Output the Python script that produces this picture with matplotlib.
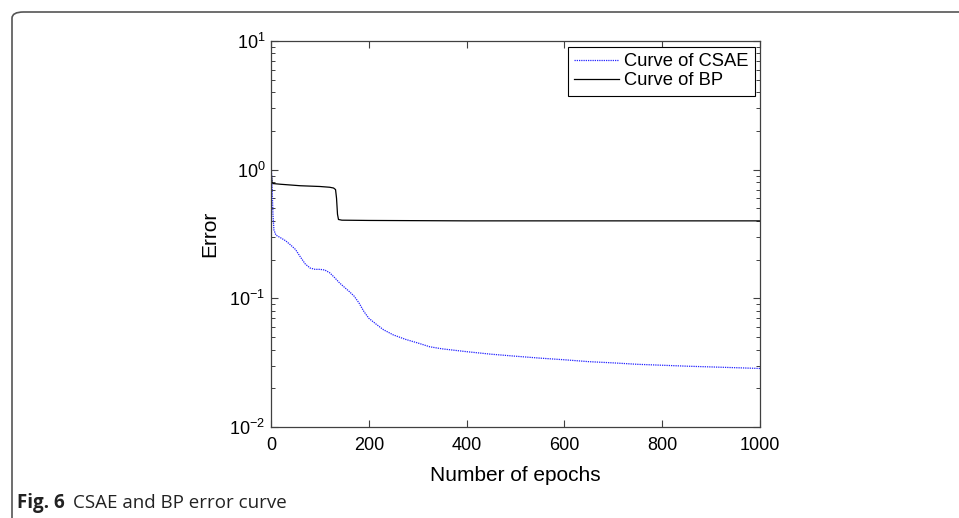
import matplotlib
matplotlib.use("Agg")
import matplotlib.pyplot as plt
from matplotlib.patches import FancyBboxPatch
from matplotlib.ticker import LogLocator, NullFormatter

# ---- data ----
csae_epochs = [0, 2, 4, 6, 10, 20, 30, 40, 50, 60, 70, 80, 90, 100, 110, 120,
               130, 140, 150, 160, 170, 180, 190, 200, 215, 230, 250, 275, 300,
               325, 350, 400, 450, 500, 550, 600, 650, 700, 750, 800, 850, 900,
               950, 1000]
csae_error = [1.15, 0.80, 0.45, 0.34, 0.31, 0.295, 0.28, 0.26, 0.24, 0.21,
              0.185, 0.172, 0.168, 0.168, 0.166, 0.158, 0.145, 0.132, 0.122,
              0.113, 0.104, 0.092, 0.079, 0.070, 0.063, 0.057, 0.052, 0.048,
              0.045, 0.042, 0.0405, 0.0385, 0.0368, 0.0355, 0.0343, 0.0333,
              0.0322, 0.0315, 0.0307, 0.0302, 0.0297, 0.0293, 0.0289, 0.0285]

bp_epochs = [0, 2, 4, 20, 40, 60, 80, 100, 120, 128, 132, 134, 136, 138, 145,
             200, 400, 600, 800, 1000]
bp_error = [1.0, 0.80, 0.78, 0.77, 0.76, 0.75, 0.745, 0.74, 0.73, 0.72, 0.70,
            0.60, 0.45, 0.41, 0.405, 0.403, 0.40, 0.40, 0.40, 0.40]

series_labels = ["Curve of CSAE", "Curve of BP"]
x_label = "Number of epochs"
y_label = "Error"
x_ticks = [0, 200, 400, 600, 800, 1000]
caption_bold = "Fig. 6"
caption_text = "CSAE and BP error curve"

# ---- figure ----
W, H = 959, 518
fig = plt.figure(figsize=(W / 100, H / 100), dpi=100)
plt.rcParams['font.family'] = ['Liberation Sans', 'DejaVu Sans']
plt.rcParams['mathtext.default'] = 'regular'
plt.rcParams['axes.unicode_minus'] = False

# outer rounded frame (extends past right and bottom edges)
frame = FancyBboxPatch((12 / W, -0.2), 1.2, 1 - 12 / H + 0.2,
                       boxstyle="round,pad=0,rounding_size=0.012",
                       transform=fig.transFigure, facecolor='none',
                       edgecolor='#555555', linewidth=1.2, clip_on=False)
fig.patches.append(frame)

ax_l, ax_r, ax_t, ax_b = 271, 760, 41, 427
ax = fig.add_axes([ax_l / W, 1 - ax_b / H, (ax_r - ax_l) / W, (ax_b - ax_t) / H])

ax.plot(csae_epochs, csae_error, linestyle=(0, (1, 0.8)), color='#2222ff',
        linewidth=0.9, label=series_labels[0])
ax.plot(bp_epochs, bp_error, linestyle='-', color='black', linewidth=0.9,
        label=series_labels[1])

ax.set_yscale('log')
ax.set_ylim(1e-2, 1e1)
ax.set_xlim(0, 1000)
ax.set_xticks(x_ticks)
ax.yaxis.set_major_locator(LogLocator(base=10, numticks=10))
ax.yaxis.set_minor_locator(LogLocator(base=10, subs=range(2, 10), numticks=20))
ax.yaxis.set_minor_formatter(NullFormatter())

spine_c = '#404040'
for s in ax.spines.values():
    s.set_color(spine_c)
    s.set_linewidth(0.9)

ax.tick_params(which='both', direction='in', top=True, right=True, color=spine_c,
               labelsize=13, labelcolor='black')
ax.tick_params(which='major', length=5, width=0.8)
ax.tick_params(which='minor', length=3, width=0.7)
ax.tick_params(axis='y', which='major', pad=4)
ax.tick_params(axis='x', which='major', pad=7)

ax.set_xlabel(x_label, fontsize=15, labelpad=9)
ax.set_ylabel(y_label, fontsize=15, labelpad=7)

leg = ax.legend(loc='upper right', fontsize=13.2, frameon=True, fancybox=False,
                edgecolor='black', framealpha=1, handlelength=2.45,
                borderaxespad=0.3, handletextpad=0.25, borderpad=0.35,
                labelspacing=0.12)
leg.get_frame().set_linewidth(0.8)

# caption
cap_y = 1 - 503 / H
t1 = fig.text(17 / W, cap_y, caption_bold, fontsize=13.5, fontweight='bold',
              family=['Open Sans', 'DejaVu Sans'], va='center', ha='left',
              color='#222222')
fig.canvas.draw()
bb = t1.get_window_extent()
fig.text((bb.x1 + 8) / W, cap_y, caption_text, fontsize=13.5,
         family=['Open Sans', 'DejaVu Sans'], va='center', ha='left',
         color='#222222')

fig.savefig('out.png', dpi=100)
